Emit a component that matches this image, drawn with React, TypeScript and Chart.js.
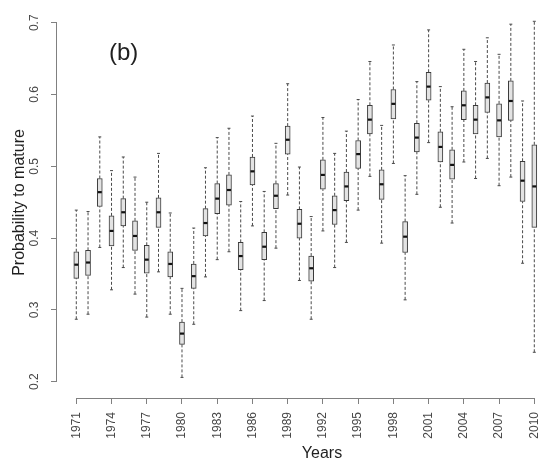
import React, { useEffect, useRef } from "react";
import { Chart, registerables } from "chart.js";

Chart.register(...registerables);

// Yearly distribution of the probability to mature (box-and-whisker summaries)
const years = [
  1971, 1972, 1973, 1974, 1975, 1976, 1977, 1978, 1979, 1980,
  1981, 1982, 1983, 1984, 1985, 1986, 1987, 1988, 1989, 1990,
  1991, 1992, 1993, 1994, 1995, 1996, 1997, 1998, 1999, 2000,
  2001, 2002, 2003, 2004, 2005, 2006, 2007, 2008, 2009, 2010,
];
const whiskerLow = [
  0.287, 0.294, 0.387, 0.328, 0.359, 0.322, 0.290, 0.353, 0.294, 0.206,
  0.280, 0.346, 0.370, 0.381, 0.299, 0.417, 0.313, 0.386, 0.460, 0.341,
  0.287, 0.410, 0.359, 0.394, 0.439, 0.486, 0.393, 0.504, 0.314, 0.461,
  0.533, 0.443, 0.421, 0.506, 0.483, 0.511, 0.473, 0.485, 0.365, 0.241,
];
const lowerQuartile = [
  0.344, 0.348, 0.444, 0.389, 0.417, 0.383, 0.351, 0.415, 0.346, 0.252,
  0.330, 0.403, 0.434, 0.446, 0.356, 0.474, 0.370, 0.441, 0.517, 0.400,
  0.340, 0.468, 0.419, 0.452, 0.497, 0.545, 0.454, 0.566, 0.380, 0.520,
  0.592, 0.506, 0.482, 0.565, 0.545, 0.575, 0.541, 0.564, 0.451, 0.415,
];
const medians = [
  0.363, 0.366, 0.464, 0.410, 0.436, 0.403, 0.370, 0.436, 0.364, 0.267,
  0.347, 0.421, 0.455, 0.467, 0.375, 0.493, 0.388, 0.459, 0.537, 0.420,
  0.358, 0.488, 0.439, 0.472, 0.517, 0.565, 0.475, 0.587, 0.402, 0.540,
  0.611, 0.527, 0.502, 0.585, 0.565, 0.596, 0.564, 0.591, 0.480, 0.472,
];
const upperQuartile = [
  0.381, 0.383, 0.483, 0.431, 0.455, 0.424, 0.390, 0.456, 0.381, 0.283,
  0.364, 0.441, 0.476, 0.488, 0.394, 0.513, 0.408, 0.476, 0.556, 0.440,
  0.375, 0.509, 0.459, 0.492, 0.536, 0.585, 0.495, 0.607, 0.423, 0.560,
  0.631, 0.548, 0.523, 0.605, 0.585, 0.616, 0.587, 0.619, 0.507, 0.530,
];
const whiskerHigh = [
  0.439, 0.437, 0.541, 0.494, 0.513, 0.485, 0.450, 0.518, 0.435, 0.330,
  0.414, 0.498, 0.540, 0.553, 0.451, 0.570, 0.465, 0.532, 0.615, 0.499,
  0.430, 0.568, 0.518, 0.549, 0.593, 0.646, 0.557, 0.669, 0.487, 0.618,
  0.690, 0.611, 0.583, 0.663, 0.646, 0.679, 0.656, 0.698, 0.591, 0.702,
];

const yearTicks = [1971, 1974, 1977, 1980, 1983, 1986, 1989, 1992, 1995, 1998, 2001, 2004, 2007, 2010];
const probabilityTicks = [0.2, 0.3, 0.4, 0.5, 0.6, 0.7];

const FONT = "'Liberation Sans', Arial, Helvetica, sans-serif";
const AXIS_COLOR = "#808080";
const LABEL_COLOR = "#474747";
const TITLE_COLOR = "#1f1f1f";
const BOX_FILL = "#e3e3e3";
const BOX_EDGE = "#3a3a3a";
const WHISKER_COLOR = "#4a4a4a";

const BOX_HALF = 2.5;
const CAP_HALF = 1.5;

// Whiskers, caps, medians and R-style axis lines
const boxWhiskerPlugin = {
  id: "boxWhiskers",
  beforeDatasetsDraw(chart: any) {
    const { ctx, scales } = chart;
    const x = scales.x;
    const y = scales.y;
    ctx.save();
    ctx.strokeStyle = WHISKER_COLOR;
    ctx.lineWidth = 1;
    years.forEach((yr, i) => {
      const px = x.getPixelForValue(yr);
      const yHi = y.getPixelForValue(whiskerHigh[i]);
      const yLo = y.getPixelForValue(whiskerLow[i]);
      ctx.setLineDash([3, 2]);
      ctx.beginPath();
      ctx.moveTo(px, y.getPixelForValue(upperQuartile[i]));
      ctx.lineTo(px, yHi);
      ctx.moveTo(px, yLo);
      ctx.lineTo(px, y.getPixelForValue(lowerQuartile[i]));
      ctx.stroke();
      ctx.setLineDash([]);
      ctx.beginPath();
      ctx.moveTo(px - CAP_HALF, yHi);
      ctx.lineTo(px + CAP_HALF, yHi);
      ctx.moveTo(px - CAP_HALF, yLo);
      ctx.lineTo(px + CAP_HALF, yLo);
      ctx.stroke();
    });
    ctx.restore();
  },
  afterDatasetsDraw(chart: any) {
    const { ctx, scales } = chart;
    const x = scales.x;
    const y = scales.y;
    ctx.save();
    ctx.strokeStyle = "#111111";
    ctx.lineWidth = 2.2;
    years.forEach((yr, i) => {
      const px = x.getPixelForValue(yr);
      const py = y.getPixelForValue(medians[i]);
      ctx.beginPath();
      ctx.moveTo(px - BOX_HALF + 0.5, py);
      ctx.lineTo(px + BOX_HALF - 0.5, py);
      ctx.stroke();
    });
    ctx.restore();
  },
  afterDraw(chart: any) {
    const { ctx, scales, chartArea } = chart;
    const x = scales.x;
    const y = scales.y;
    ctx.save();
    ctx.strokeStyle = AXIS_COLOR;
    ctx.lineWidth = 1;
    const xa = Math.round(chartArea.bottom) + 0.5;
    ctx.beginPath();
    ctx.moveTo(x.getPixelForValue(yearTicks[0]), xa);
    ctx.lineTo(x.getPixelForValue(yearTicks[yearTicks.length - 1]), xa);
    ctx.stroke();
    const ya = Math.round(chartArea.left) - 0.5;
    ctx.beginPath();
    ctx.moveTo(ya, y.getPixelForValue(probabilityTicks[0]));
    ctx.lineTo(ya, y.getPixelForValue(probabilityTicks[probabilityTicks.length - 1]));
    ctx.stroke();

    ctx.fillStyle = TITLE_COLOR;
    ctx.font = `16px ${FONT}`;
    ctx.textAlign = "center";
    ctx.textBaseline = "alphabetic";
    ctx.fillText("Years", 322, 458);

    ctx.font = `24px ${FONT}`;
    ctx.textAlign = "left";
    ctx.fillText("(b)", 109, 60);
    ctx.restore();
  },
};

export default function App() {
  const canvasRef = useRef<HTMLCanvasElement | null>(null);

  useEffect(() => {
    const canvas = canvasRef.current;
    if (!canvas) return;
    const chart = new Chart(canvas, {
      type: "bar",
      data: {
        datasets: [
          {
            data: years.map((yr, i) => ({ x: yr, y: [lowerQuartile[i], upperQuartile[i]] })) as any,
            backgroundColor: BOX_FILL,
            borderColor: BOX_EDGE,
            borderWidth: 1,
            borderSkipped: false,
            barThickness: 5,
          },
        ],
      },
      options: {
        responsive: false,
        animation: false,
        devicePixelRatio: 1,
        layout: { padding: { top: 7, right: 2, bottom: 0, left: 0 } },
        plugins: {
          legend: { display: false },
          tooltip: { enabled: false },
        },
        scales: {
          x: {
            type: "linear",
            bounds: "data",
            min: 1969.357,
            max: 2010.74,
            offset: false,
            afterBuildTicks: (s: any) => {
              s.ticks = yearTicks.map((v) => ({ value: v }));
            },
            afterFit: (s: any) => {
              s.height = 68;
              s.paddingLeft = 0;
              s.paddingRight = 0;
            },
            grid: {
              display: true,
              drawOnChartArea: false,
              drawTicks: true,
              tickLength: 6,
              color: AXIS_COLOR,
              offset: false,
            },
            border: { display: false },
            ticks: {
              autoSkip: false,
              minRotation: 90,
              maxRotation: 90,
              padding: 8,
              color: LABEL_COLOR,
              font: { family: FONT, size: 12 },
              callback: (v: any) => String(v),
            },
          },
          y: {
            type: "linear",
            bounds: "data",
            min: 0.1773,
            max: 0.7219,
            afterBuildTicks: (s: any) => {
              s.ticks = probabilityTicks.map((v) => ({ value: v }));
            },
            afterFit: (s: any) => {
              s.width = 57;
              s.paddingTop = 0;
              s.paddingBottom = 0;
            },
            grid: {
              display: true,
              drawOnChartArea: false,
              drawTicks: true,
              tickLength: 6,
              color: AXIS_COLOR,
            },
            border: { display: false },
            ticks: {
              minRotation: 90,
              maxRotation: 90,
              crossAlign: "center",
              padding: 8,
              color: LABEL_COLOR,
              font: { family: FONT, size: 12 },
              callback: (v: any) => Number(v).toFixed(1),
            },
            title: {
              display: true,
              text: "Probability to mature",
              color: TITLE_COLOR,
              font: { family: FONT, size: 16 },
              padding: { top: 10, bottom: 0 },
            },
          },
        },
      } as any,
      plugins: [boxWhiskerPlugin],
    });
    return () => chart.destroy();
  }, []);

  return (
    <div style={{ position: "fixed", left: 0, top: 0, width: 545, height: 466, background: "#ffffff" }}>
      <canvas ref={canvasRef} width={545} height={466} style={{ display: "block" }} />
    </div>
  );
}
